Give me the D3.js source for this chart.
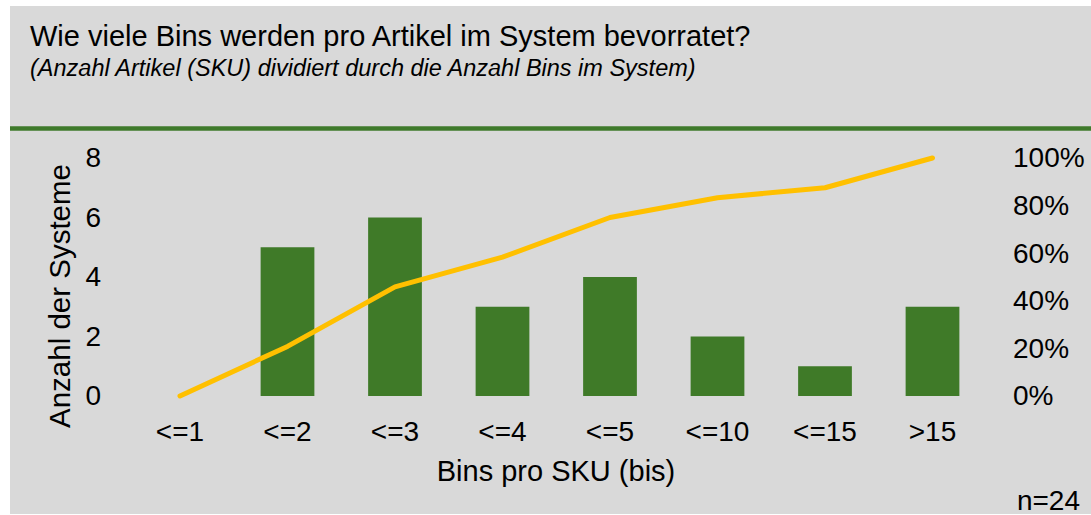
<!DOCTYPE html>
<html>
<head>
<meta charset="utf-8">
<script src="https://cdn.jsdelivr.net/npm/d3@7"></script>
<style>
  body { margin: 0; background: #fff; }
  text { font-family: "Liberation Sans", Arial, sans-serif; fill: #000; }
</style>
</head>
<body>
<svg id="chart"></svg>
<script>
// data
let categories = ['<=1', '<=2', '<=3', '<=4', '<=5', '<=10', '<=15', '>15'];
let counts = [0, 5, 6, 3, 4, 2, 1, 3];
let countTicks = [0, 2, 4, 6, 8];
let pctTicks = [0, 0.2, 0.4, 0.6, 0.8, 1];

let total = d3.sum(counts);
let cumulative = d3.cumsum(counts).map(v => v / total);

let w = 1091;
let h = 515;

let chart = d3.select('#chart')
	.attr('width', w)
	.attr('height', h);

// background panel + green divider
chart.append('rect')
	.attr('x', 10).attr('y', 6)
	.attr('width', w - 10).attr('height', 508)
	.attr('fill', '#d9d9d9');

chart.append('line')
	.attr('x1', 10).attr('x2', w)
	.attr('y1', 128.5).attr('y2', 128.5)
	.attr('stroke', '#3f7a2b')
	.attr('stroke-width', 4.5);

chart.append('text')
	.attr('x', 30).attr('y', 46)
	.style('font-size', '29px')
	.text('Wie viele Bins werden pro Artikel im System bevorratet?');

chart.append('text')
	.attr('x', 30).attr('y', 76)
	.style('font-size', '23.5px')
	.style('font-style', 'italic')
	.text('(Anzahl Artikel (SKU) dividiert durch die Anzahl Bins im System)');

let x = d3.scaleBand()
	.domain(categories)
	.range([126.25, 986.25])
	.paddingInner(0.5)
	.paddingOuter(0.25);

let y = d3.scaleLinear().domain([0, 8]).range([396, 158]);
let yPct = d3.scaleLinear().domain([0, 1]).range([396, 158]);

// bars
chart.append('g')
	.selectAll('rect')
	.data(counts)
	.enter()
	.append('rect')
	.attr('x', (d, i) => x(categories[i]))
	.attr('width', x.bandwidth())
	.attr('y', d => y(d))
	.attr('height', d => y(0) - y(d))
	.attr('fill', '#3f7a28');

// cumulative line
let line = d3.line()
	.x((d, i) => x(categories[i]) + x.bandwidth() / 2)
	.y(d => yPct(d));

chart.append('path')
	.datum(cumulative)
	.attr('d', line)
	.attr('fill', 'none')
	.attr('stroke', '#ffc000')
	.attr('stroke-width', 5)
	.attr('stroke-linecap', 'round')
	.attr('stroke-linejoin', 'round');

// axes (labels only, no lines)
let leftAxis = chart.append('g')
	.attr('transform', 'translate(101,0)')
	.call(d3.axisLeft(y).tickValues(countTicks).tickSize(0).tickPadding(0));

let rightAxis = chart.append('g')
	.attr('transform', 'translate(1013,0)')
	.call(d3.axisRight(yPct).tickValues(pctTicks).tickFormat(d3.format('.0%')).tickSize(0).tickPadding(0));

let bottomAxis = chart.append('g')
	.attr('transform', 'translate(0,421)')
	.call(d3.axisBottom(x).tickSize(0).tickPadding(0));

[leftAxis, rightAxis, bottomAxis].forEach(a => {
	a.select('.domain').remove();
	a.selectAll('text')
		.attr('fill', '#000')
		.style('font-family', '"Liberation Sans", Arial, sans-serif')
		.style('font-size', '28px');
});

chart.append('text')
	.attr('transform', 'translate(70,296) rotate(-90)')
	.attr('text-anchor', 'middle')
	.style('font-size', '29.5px')
	.text('Anzahl der Systeme');

chart.append('text')
	.attr('x', 556).attr('y', 481)
	.attr('text-anchor', 'middle')
	.style('font-size', '29px')
	.text('Bins pro SKU (bis)');

chart.append('text')
	.attr('x', 1080).attr('y', 510)
	.attr('text-anchor', 'end')
	.style('font-size', '28px')
	.text('n=24');
</script>
</body>
</html>
